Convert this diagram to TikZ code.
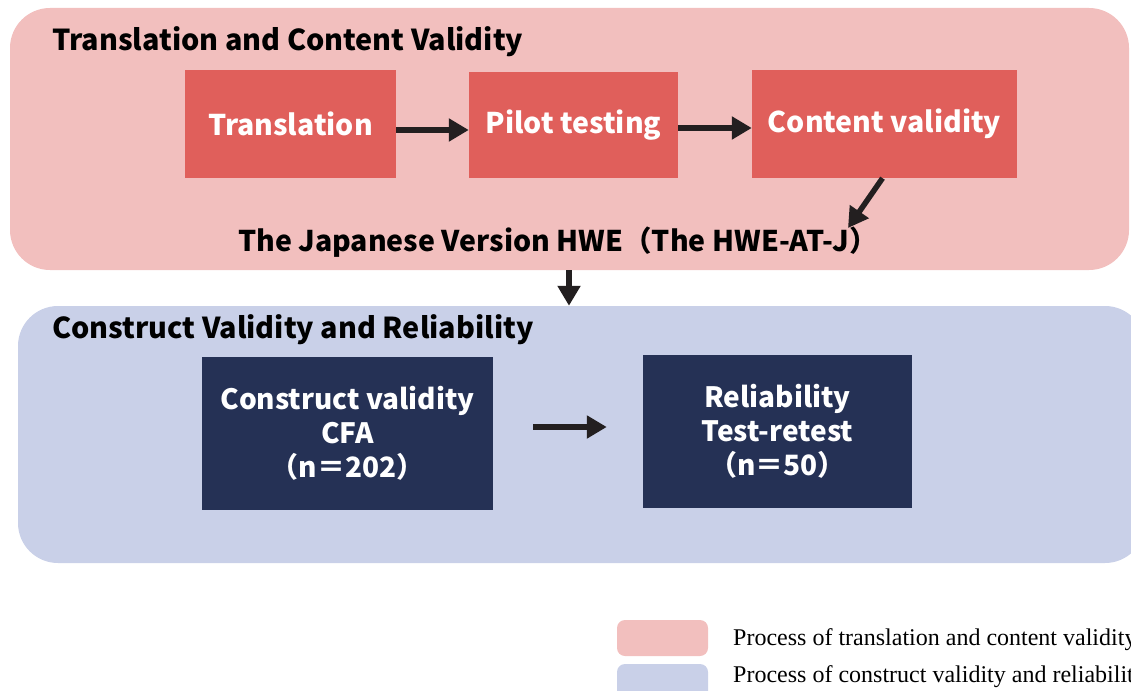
\documentclass[tikz,border=0pt]{standalone}
\usepackage{fontspec}
\setmainfont{Noto Sans CJK JP}
\newfontfamily\legendfont{Liberation Serif}
\usetikzlibrary{arrows.meta}
\definecolor{pinkbg}{HTML}{F2BFBE}
\definecolor{redbox}{HTML}{E05F5B}
\definecolor{bluebg}{HTML}{C9D0E8}
\definecolor{navybox}{HTML}{253155}
\definecolor{arrowblack}{HTML}{231F20}

\begin{document}
\begin{tikzpicture}[x=1pt,y=-1pt,
    stagebg/.style={rounded corners=40pt, inner sep=0pt},
    redstep/.style={fill=redbox, text=white, inner sep=0pt,
      font=\bfseries\fontsize{28.5}{34}\selectfont},
    navystep/.style={fill=navybox, text=white, inner sep=0pt, align=center,
      font=\bfseries\fontsize{28}{34}\selectfont},
    stagetitle/.style={anchor=west, inner sep=0pt,
      font=\bfseries\fontsize{28.8}{32}\selectfont},
    legendkey/.style={rounded corners=8pt, minimum width=91, minimum height=36},
    legendtext/.style={anchor=west, inner sep=0pt,
      font=\legendfont\fontsize{24}{28}\selectfont},
    flow/.style={arrowblack, line width=5.5pt, -{Triangle[length=20pt,width=22pt]}}]
    \clip (0,0) rectangle (1131,690);
    % stage backgrounds
    \node[stagebg, fill=pinkbg, minimum width=1119, minimum height=262] (topbg) at (569.5,139) {};
    \node[stagebg, fill=bluebg, minimum width=1127, minimum height=257] (botbg) at (581.5,434.5) {};
    \node[stagetitle] (toptitle) at (52,42) {Translation and Content Validity};
    \node[stagetitle] (bottitle) at (52,330) {Construct Validity and Reliability};
    % translation steps
    \node[redstep, minimum width=211, minimum height=108] (trans) at (290.5,124) {Translation};
    \node[redstep, minimum width=209, minimum height=106] (pilot) at (573.5,125) {Pilot testing};
    \node[redstep, minimum width=265, minimum height=108] (cont) at (884.5,124) {Content validity};
    \node[inner sep=0pt, font=\bfseries\fontsize{28.5}{32}\selectfont] (jv) at (558,242)
      {The Japanese Version HWE（The HWE-AT-J）};
    \coordinate (jvtip) at (848,228);
    \coordinate (downx) at (569,0);
    \draw[flow] (trans.east |- 0,130) -- (pilot.west |- 0,130);
    \draw[flow] (pilot.east |- 0,128) -- (cont.west |- 0,128);
    \draw[flow] ([xshift=-2pt]cont.south) -- (jvtip);
    \draw[flow] (topbg.south -| downx) -- (botbg.north -| downx);
    % validity and reliability
    \node[navystep, minimum width=291, minimum height=153] (cv) at (347.5,433.5)
      {Construct validity\\CFA\\（n＝202）};
    \node[navystep, minimum width=269, minimum height=153] (rel) at (777.5,431.5)
      {Reliability\\Test-retest\\（n＝50）};
    \draw[flow] ([xshift=40pt,yshift=6.5pt]cv.east) -- ([xshift=-36pt,yshift=4.5pt]rel.west);
    % legend
    \node[legendkey, fill=pinkbg] (keytop) at (662.5,638) {};
    \node[legendkey, fill=bluebg] (keybot) at (662.5,682) {};
    \node[legendtext] (labtop) at (733,640) {Process of translation and content validity};
    \node[legendtext] (labbot) at (733,677) {Process of construct validity and reliability};
\end{tikzpicture}
\end{document}
